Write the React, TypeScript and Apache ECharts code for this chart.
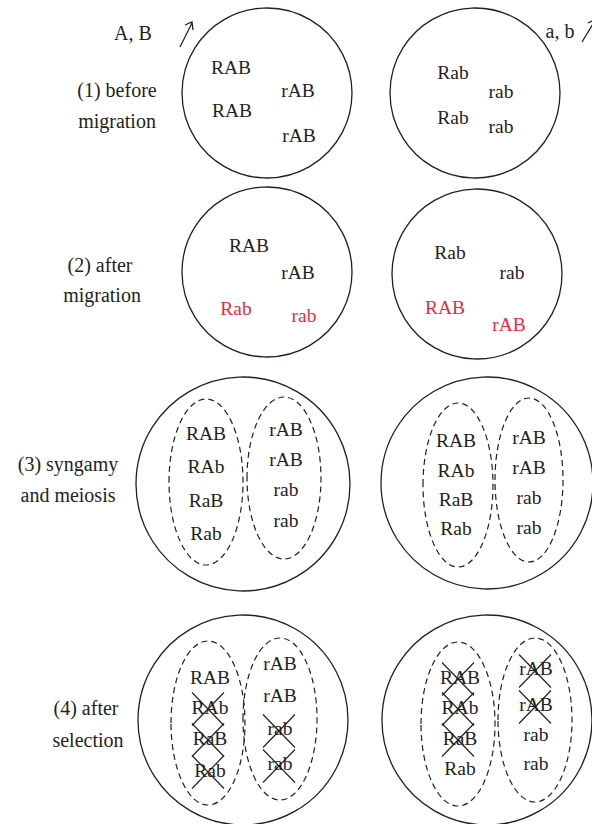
import React, { useEffect, useRef } from "react";
import * as echarts from "echarts";

// ---- data ----
const stageLabels = [
  ["(1) before", "migration"],
  ["(2) after", "migration"],
  ["(3) syngamy", "and meiosis"],
  ["(4) after", "selection"],
];
const alleleLabels = ["A, B", "a, b"];

// stage 1 & 2: genotypes in each deme
const stage1Left = ["RAB", "rAB", "RAB", "rAB"];
const stage1Right = ["Rab", "rab", "Rab", "rab"];
const stage2Left = ["RAB", "rAB", "Rab", "rab"];
const stage2LeftMigrant = [false, false, true, true];
const stage2Right = ["Rab", "rab", "RAB", "rAB"];
const stage2RightMigrant = [false, false, true, true];

// stage 3 & 4: gametes in the two dashed groups
const gametesR = ["RAB", "RAb", "RaB", "Rab"];
const gamesr = ["rAB", "rAB", "rab", "rab"];
// stage 4: which gametes are removed by selection
const killedLeftR = [false, true, true, true];
const killedLeftr = [false, false, true, true];
const killedRightR = [true, true, true, false];
const killedRightr = [true, true, false, false];

// ---- layout (pixels) ----
const LABEL_POS = [
  [[117, 90], [117, 121]],
  [[100, 265], [102, 295]],
  [[68, 464], [68, 495]],
  [[86, 708], [88, 740]],
];
const CIRCLES = [
  [[267, 93, 85], [475, 93, 85]],
  [[267, 272, 85], [477, 274, 85]],
  [[243, 484, 107], [487, 483, 106]],
  [[243, 720, 105], [487, 720, 105]],
];
const S1_POS_L = [[231, 67], [298, 90], [232, 110], [299, 135]];
const S1_POS_R = [[453, 72], [501, 91], [453, 117], [501, 126]];
const S2_POS_L = [[249, 245], [298, 272], [236, 308], [304, 315]];
const S2_POS_R = [[450, 252], [512, 272], [445, 307], [509, 324]];

const S3_ELL = [
  [[206, 482, 37, 83], [284, 478, 37, 81]],
  [[458, 485, 35, 82], [529, 480, 34, 82]],
];
const S3_TXT = [
  [[206, [433, 466, 500, 533]], [286, [429, 459, 489, 520]]],
  [[456, [440, 470, 499, 528]], [529, [437, 467, 497, 527]]],
];
const S4_ELL = [
  [[208, 723, 37, 82], [280, 719, 37, 81]],
  [[458, 724, 37, 82], [535, 720, 37, 82]],
];
const S4_TXT = [
  [[210, [677, 707, 738, 770]], [280, [663, 695, 728, 763]]],
  [[460, [677, 707, 738, 768]], [536, [668, 704, 734, 763]]],
];

const INK = "#231f20";
const RED = "#ec2b40";
const FONT = "Liberation Serif";
const FS = 19.5;
const FS_LABEL = 20;

function txt(s: string, x: number, y: number, color = INK, size = FS): any {
  return {
    type: "text",
    x,
    y,
    style: {
      text: s,
      fill: color,
      fontFamily: FONT,
      fontSize: size,
      align: "center",
      verticalAlign: "middle",
    },
    z: 10,
  };
}

function circle(cx: number, cy: number, r: number): any {
  return {
    type: "circle",
    shape: { cx, cy, r },
    style: { fill: "none", stroke: INK, lineWidth: 1.3 },
  };
}

function dashEllipse(cx: number, cy: number, rx: number, ry: number): any {
  return {
    type: "ellipse",
    shape: { cx, cy, rx, ry },
    style: { fill: "none", stroke: INK, lineWidth: 1.2, lineDash: [6, 4] },
  };
}

function cross(cx: number, cy: number): any[] {
  const w = 16;
  const h = 16.5;
  const st = { stroke: INK, lineWidth: 1.2 };
  return [
    { type: "line", shape: { x1: cx - w, y1: cy - h, x2: cx + w, y2: cy + h }, style: st, z: 11 },
    { type: "line", shape: { x1: cx + w, y1: cy - h, x2: cx - w, y2: cy + h }, style: st, z: 11 },
  ];
}

function buildGraphics(): any[] {
  const g: any[] = [];
  stageLabels.forEach((lines, i) => {
    lines.forEach((l, j) => {
      g.push(txt(l, LABEL_POS[i][j][0], LABEL_POS[i][j][1], INK, FS_LABEL));
    });
  });
  CIRCLES.forEach((row) => row.forEach((c) => g.push(circle(c[0], c[1], c[2]))));
  g.push(txt(alleleLabels[0], 133, 33, INK, FS_LABEL));
  g.push(txt(alleleLabels[1], 560, 31, INK, FS_LABEL));
  const ast = { stroke: INK, lineWidth: 1.3, fill: "none" };
  g.push({ type: "line", shape: { x1: 180, y1: 47, x2: 192, y2: 23 }, style: ast });
  g.push({ type: "polyline", shape: { points: [[185, 25], [192, 22], [193, 30]] }, style: ast });
  g.push({ type: "line", shape: { x1: 582, y1: 42, x2: 596, y2: 19 }, style: ast });
  g.push({ type: "polyline", shape: { points: [[588, 23], [596, 19], [597, 27]] }, style: ast });

  stage1Left.forEach((s, i) => g.push(txt(s, S1_POS_L[i][0], S1_POS_L[i][1])));
  stage1Right.forEach((s, i) => g.push(txt(s, S1_POS_R[i][0], S1_POS_R[i][1])));
  stage2Left.forEach((s, i) =>
    g.push(txt(s, S2_POS_L[i][0], S2_POS_L[i][1], stage2LeftMigrant[i] ? RED : INK))
  );
  stage2Right.forEach((s, i) =>
    g.push(txt(s, S2_POS_R[i][0], S2_POS_R[i][1], stage2RightMigrant[i] ? RED : INK))
  );
  for (let d = 0; d < 2; d++) {
    S3_ELL[d].forEach((e) => g.push(dashEllipse(e[0], e[1], e[2], e[3])));
    const [lx, ly] = S3_TXT[d][0] as [number, number[]];
    const [rx, ry] = S3_TXT[d][1] as [number, number[]];
    gametesR.forEach((s, i) => g.push(txt(s, lx, ly[i])));
    gamesr.forEach((s, i) => g.push(txt(s, rx, ry[i])));
  }
  const killed = [
    [killedLeftR, killedLeftr],
    [killedRightR, killedRightr],
  ];
  for (let d = 0; d < 2; d++) {
    S4_ELL[d].forEach((e) => g.push(dashEllipse(e[0], e[1], e[2], e[3])));
    const [lx, ly] = S4_TXT[d][0] as [number, number[]];
    const [rx, ry] = S4_TXT[d][1] as [number, number[]];
    gametesR.forEach((s, i) => {
      g.push(txt(s, lx, ly[i]));
      if (killed[d][0][i]) g.push(...cross(lx - 2, ly[i] + 2));
    });
    gamesr.forEach((s, i) => {
      g.push(txt(s, rx, ry[i]));
      if (killed[d][1][i]) g.push(...cross(rx - 1, ry[i] + 3));
    });
  }
  return g;
}

export default function App() {
  const ref = useRef<HTMLDivElement>(null);
  useEffect(() => {
    document.body.style.margin = "0";
    const chart = echarts.init(ref.current!, null, { renderer: "svg" });
    chart.setOption({
      animation: false,
      backgroundColor: "#ffffff",
      graphic: { elements: buildGraphics() },
    });
    return () => chart.dispose();
  }, []);
  return <div ref={ref} style={{ width: 592, height: 824 }} />;
}
